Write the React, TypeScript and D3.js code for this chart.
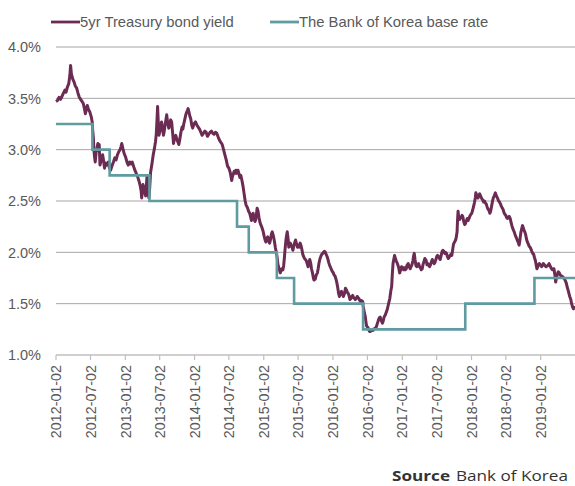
import React, { useEffect } from "react";
import * as d3 from "d3";

type Pt = [string, number];

const yield2012: Pt[] = [
  ["2012-01-02", 3.47], ["2012-01-10", 3.48], ["2012-01-18", 3.51], ["2012-01-26", 3.49],
  ["2012-02-03", 3.52], ["2012-02-10", 3.55], ["2012-02-18", 3.58], ["2012-02-24", 3.56],
  ["2012-03-02", 3.61], ["2012-03-09", 3.64], ["2012-03-15", 3.72], ["2012-03-19", 3.82],
  ["2012-03-23", 3.74], ["2012-03-30", 3.69], ["2012-04-06", 3.66], ["2012-04-13", 3.62],
  ["2012-04-20", 3.60], ["2012-04-27", 3.55], ["2012-05-04", 3.51], ["2012-05-11", 3.49],
  ["2012-05-18", 3.47], ["2012-05-25", 3.45], ["2012-06-01", 3.39], ["2012-06-05", 3.35],
  ["2012-06-11", 3.40], ["2012-06-15", 3.43], ["2012-06-22", 3.39], ["2012-06-28", 3.37],
  ["2012-07-06", 3.32], ["2012-07-11", 3.27], ["2012-07-13", 3.20], ["2012-07-17", 3.12],
  ["2012-07-20", 3.00], ["2012-07-24", 2.92], ["2012-07-27", 2.88], ["2012-08-01", 2.98],
  ["2012-08-06", 3.02], ["2012-08-10", 3.06], ["2012-08-14", 2.99], ["2012-08-17", 3.05],
  ["2012-08-21", 2.85], ["2012-08-28", 2.90], ["2012-09-04", 2.95], ["2012-09-10", 2.88],
  ["2012-09-14", 2.82], ["2012-09-19", 2.87], ["2012-09-25", 2.85], ["2012-10-04", 2.88],
  ["2012-10-10", 2.82], ["2012-10-16", 2.80], ["2012-10-23", 2.84], ["2012-10-31", 2.88],
  ["2012-11-07", 2.92], ["2012-11-14", 2.90], ["2012-11-21", 2.95], ["2012-11-28", 2.98],
  ["2012-12-05", 3.00], ["2012-12-10", 3.03], ["2012-12-14", 3.06], ["2012-12-20", 3.01],
  ["2012-12-27", 2.96],
];

const yield2013: Pt[] = [
  ["2013-01-03", 2.93], ["2013-01-10", 2.88], ["2013-01-17", 2.85], ["2013-01-24", 2.88],
  ["2013-01-31", 2.86], ["2013-02-07", 2.88], ["2013-02-14", 2.84], ["2013-02-21", 2.80],
  ["2013-02-28", 2.77], ["2013-03-07", 2.74], ["2013-03-14", 2.70], ["2013-03-21", 2.65],
  ["2013-03-26", 2.60], ["2013-03-29", 2.53], ["2013-04-02", 2.60], ["2013-04-05", 2.66],
  ["2013-04-10", 2.63], ["2013-04-15", 2.58], ["2013-04-19", 2.55], ["2013-04-24", 2.68],
  ["2013-04-26", 2.74], ["2013-05-02", 2.60], ["2013-05-06", 2.53], ["2013-05-10", 2.62],
  ["2013-05-15", 2.78], ["2013-05-22", 2.86], ["2013-05-29", 2.95], ["2013-06-05", 3.02],
  ["2013-06-10", 3.08], ["2013-06-14", 3.15], ["2013-06-18", 3.30], ["2013-06-21", 3.42],
  ["2013-06-25", 3.25], ["2013-06-28", 3.14], ["2013-07-03", 3.18], ["2013-07-08", 3.24],
  ["2013-07-12", 3.27], ["2013-07-17", 3.20], ["2013-07-22", 3.14], ["2013-07-26", 3.18],
  ["2013-07-31", 3.25], ["2013-08-05", 3.30], ["2013-08-08", 3.34], ["2013-08-13", 3.26],
  ["2013-08-19", 3.21], ["2013-08-23", 3.24], ["2013-08-29", 3.29], ["2013-09-03", 3.27],
  ["2013-09-09", 3.15], ["2013-09-13", 3.06], ["2013-09-17", 3.10], ["2013-09-25", 3.14],
  ["2013-10-01", 3.10], ["2013-10-07", 3.07], ["2013-10-11", 3.05], ["2013-10-16", 3.10],
  ["2013-10-22", 3.17], ["2013-10-28", 3.22], ["2013-11-01", 3.20], ["2013-11-06", 3.25],
  ["2013-11-12", 3.30], ["2013-11-18", 3.35], ["2013-11-25", 3.38], ["2013-11-29", 3.40],
  ["2013-12-04", 3.36], ["2013-12-09", 3.32], ["2013-12-13", 3.30], ["2013-12-18", 3.24],
  ["2013-12-23", 3.21], ["2013-12-30", 3.25],
];

const yield2014: Pt[] = [
  ["2014-01-07", 3.27], ["2014-01-14", 3.24], ["2014-01-21", 3.22], ["2014-01-28", 3.20],
  ["2014-02-04", 3.17], ["2014-02-11", 3.14], ["2014-02-18", 3.16], ["2014-02-25", 3.18],
  ["2014-03-04", 3.17], ["2014-03-11", 3.13], ["2014-03-18", 3.15], ["2014-03-25", 3.17],
  ["2014-04-01", 3.18], ["2014-04-08", 3.16], ["2014-04-15", 3.15], ["2014-04-22", 3.17],
  ["2014-04-29", 3.16], ["2014-05-07", 3.12], ["2014-05-14", 3.09], ["2014-05-21", 3.07],
  ["2014-05-28", 3.05], ["2014-06-04", 3.00], ["2014-06-11", 2.95], ["2014-06-18", 2.90],
  ["2014-06-25", 2.84], ["2014-07-02", 2.82], ["2014-07-09", 2.78], ["2014-07-14", 2.73],
  ["2014-07-17", 2.70], ["2014-07-21", 2.74], ["2014-07-25", 2.76], ["2014-07-30", 2.79],
  ["2014-08-05", 2.77], ["2014-08-08", 2.80], ["2014-08-13", 2.77], ["2014-08-19", 2.80],
  ["2014-08-25", 2.76], ["2014-08-29", 2.73], ["2014-09-03", 2.75], ["2014-09-09", 2.70],
  ["2014-09-15", 2.64], ["2014-09-22", 2.55], ["2014-09-26", 2.50], ["2014-10-01", 2.46],
  ["2014-10-07", 2.44], ["2014-10-14", 2.40], ["2014-10-20", 2.38], ["2014-10-24", 2.35],
  ["2014-10-29", 2.31], ["2014-11-03", 2.37], ["2014-11-07", 2.38], ["2014-11-11", 2.33],
  ["2014-11-17", 2.30], ["2014-11-21", 2.32], ["2014-11-25", 2.38], ["2014-11-28", 2.43],
  ["2014-12-03", 2.40], ["2014-12-08", 2.34], ["2014-12-12", 2.30], ["2014-12-17", 2.27],
  ["2014-12-22", 2.25], ["2014-12-29", 2.21],
];

const yield2015: Pt[] = [
  ["2015-01-05", 2.15], ["2015-01-09", 2.12], ["2015-01-13", 2.10], ["2015-01-19", 2.14],
  ["2015-01-23", 2.15], ["2015-01-28", 2.11], ["2015-02-02", 2.09], ["2015-02-06", 2.12],
  ["2015-02-12", 2.18], ["2015-02-16", 2.20], ["2015-02-23", 2.15], ["2015-02-27", 2.11],
  ["2015-03-04", 2.05], ["2015-03-09", 2.00], ["2015-03-13", 1.96], ["2015-03-18", 1.88],
  ["2015-03-24", 1.84], ["2015-03-30", 1.80], ["2015-04-03", 1.82], ["2015-04-08", 1.84],
  ["2015-04-13", 1.83], ["2015-04-17", 1.87], ["2015-04-21", 1.95], ["2015-04-24", 2.02],
  ["2015-04-28", 2.10], ["2015-05-01", 2.15], ["2015-05-06", 2.20], ["2015-05-11", 2.12],
  ["2015-05-14", 2.05], ["2015-05-19", 2.07], ["2015-05-22", 2.09], ["2015-05-28", 2.06],
  ["2015-06-02", 2.04], ["2015-06-05", 2.02], ["2015-06-10", 2.07], ["2015-06-15", 2.10],
  ["2015-06-19", 2.12], ["2015-06-24", 2.08], ["2015-06-29", 2.05], ["2015-07-03", 2.07],
  ["2015-07-08", 2.05], ["2015-07-13", 2.09], ["2015-07-17", 2.07], ["2015-07-22", 2.03],
  ["2015-07-27", 1.98], ["2015-07-31", 1.96], ["2015-08-05", 1.94], ["2015-08-10", 1.93],
  ["2015-08-14", 1.92], ["2015-08-19", 1.89], ["2015-08-24", 1.86], ["2015-08-28", 1.90],
  ["2015-09-02", 1.93], ["2015-09-07", 1.89], ["2015-09-11", 1.84], ["2015-09-16", 1.80],
  ["2015-09-21", 1.75], ["2015-09-24", 1.73], ["2015-10-01", 1.74], ["2015-10-06", 1.78],
  ["2015-10-12", 1.80], ["2015-10-16", 1.84], ["2015-10-21", 1.90], ["2015-10-26", 1.94],
  ["2015-10-30", 1.96], ["2015-11-04", 1.98], ["2015-11-09", 1.99], ["2015-11-13", 2.00],
  ["2015-11-18", 2.01], ["2015-11-23", 2.00], ["2015-11-27", 1.98], ["2015-12-02", 1.96],
  ["2015-12-07", 1.93], ["2015-12-11", 1.90], ["2015-12-16", 1.87], ["2015-12-21", 1.85],
  ["2015-12-28", 1.82],
];

const yield2016: Pt[] = [
  ["2016-01-04", 1.80], ["2016-01-08", 1.78], ["2016-01-13", 1.77], ["2016-01-18", 1.74],
  ["2016-01-22", 1.71], ["2016-01-27", 1.66], ["2016-02-01", 1.60], ["2016-02-05", 1.57],
  ["2016-02-11", 1.60], ["2016-02-16", 1.62], ["2016-02-22", 1.59], ["2016-02-26", 1.57],
  ["2016-03-03", 1.60], ["2016-03-08", 1.65], ["2016-03-14", 1.63], ["2016-03-18", 1.61],
  ["2016-03-23", 1.60], ["2016-03-28", 1.57], ["2016-04-01", 1.54], ["2016-04-06", 1.55],
  ["2016-04-11", 1.57], ["2016-04-15", 1.58], ["2016-04-20", 1.56], ["2016-04-25", 1.55],
  ["2016-04-29", 1.54], ["2016-05-04", 1.55], ["2016-05-09", 1.57], ["2016-05-13", 1.56],
  ["2016-05-18", 1.55], ["2016-05-23", 1.53], ["2016-05-27", 1.52], ["2016-06-01", 1.53],
  ["2016-06-07", 1.52], ["2016-06-09", 1.48], ["2016-06-13", 1.44], ["2016-06-16", 1.41],
  ["2016-06-21", 1.37], ["2016-06-24", 1.32], ["2016-06-28", 1.28], ["2016-07-04", 1.27],
  ["2016-07-08", 1.25], ["2016-07-13", 1.23], ["2016-07-18", 1.23], ["2016-07-22", 1.24],
  ["2016-07-27", 1.25], ["2016-08-01", 1.24], ["2016-08-05", 1.25], ["2016-08-10", 1.26],
  ["2016-08-16", 1.27], ["2016-08-19", 1.28], ["2016-08-24", 1.31], ["2016-08-29", 1.34],
  ["2016-09-02", 1.36], ["2016-09-07", 1.37], ["2016-09-12", 1.34], ["2016-09-19", 1.31],
  ["2016-09-23", 1.33], ["2016-09-28", 1.37], ["2016-10-04", 1.39], ["2016-10-10", 1.42],
  ["2016-10-14", 1.44], ["2016-10-19", 1.48], ["2016-10-24", 1.52], ["2016-10-28", 1.55],
  ["2016-11-02", 1.62], ["2016-11-07", 1.67], ["2016-11-10", 1.78], ["2016-11-14", 1.89],
  ["2016-11-18", 1.93], ["2016-11-22", 1.97], ["2016-11-25", 1.95], ["2016-11-30", 1.92],
  ["2016-12-05", 1.90], ["2016-12-09", 1.88], ["2016-12-14", 1.85], ["2016-12-19", 1.80],
  ["2016-12-23", 1.82], ["2016-12-29", 1.86],
];

const yield2017: Pt[] = [
  ["2017-01-04", 1.85], ["2017-01-09", 1.83], ["2017-01-13", 1.85], ["2017-01-18", 1.83],
  ["2017-01-23", 1.84], ["2017-01-26", 1.87], ["2017-02-02", 1.89], ["2017-02-07", 1.86],
  ["2017-02-13", 1.84], ["2017-02-17", 1.86], ["2017-02-22", 1.88], ["2017-02-27", 1.92],
  ["2017-03-03", 1.97], ["2017-03-06", 1.99], ["2017-03-10", 1.93], ["2017-03-15", 1.87],
  ["2017-03-20", 1.86], ["2017-03-24", 1.88], ["2017-03-29", 1.89], ["2017-04-03", 1.86],
  ["2017-04-07", 1.85], ["2017-04-12", 1.83], ["2017-04-17", 1.84], ["2017-04-21", 1.88],
  ["2017-04-26", 1.91], ["2017-05-01", 1.94], ["2017-05-08", 1.92], ["2017-05-12", 1.88],
  ["2017-05-17", 1.89], ["2017-05-22", 1.87], ["2017-05-26", 1.86], ["2017-05-31", 1.88],
  ["2017-06-05", 1.91], ["2017-06-09", 1.93], ["2017-06-14", 1.91], ["2017-06-19", 1.89],
  ["2017-06-23", 1.90], ["2017-06-28", 1.93], ["2017-07-03", 1.96], ["2017-07-07", 1.97],
  ["2017-07-12", 1.96], ["2017-07-17", 1.94], ["2017-07-21", 1.93], ["2017-07-26", 1.97],
  ["2017-07-31", 2.01], ["2017-08-04", 2.02], ["2017-08-09", 2.01], ["2017-08-14", 1.99],
  ["2017-08-18", 2.00], ["2017-08-23", 1.99], ["2017-08-28", 1.96], ["2017-09-01", 1.94],
  ["2017-09-06", 1.95], ["2017-09-11", 1.97], ["2017-09-15", 1.98], ["2017-09-20", 1.97],
  ["2017-09-25", 2.03], ["2017-09-29", 2.08], ["2017-10-10", 2.12], ["2017-10-13", 2.14],
  ["2017-10-18", 2.20], ["2017-10-20", 2.30], ["2017-10-23", 2.40], ["2017-10-26", 2.35],
  ["2017-10-31", 2.32], ["2017-11-03", 2.33], ["2017-11-08", 2.34], ["2017-11-13", 2.36],
  ["2017-11-17", 2.35], ["2017-11-22", 2.30], ["2017-11-27", 2.27], ["2017-12-01", 2.28],
  ["2017-12-06", 2.31], ["2017-12-11", 2.33], ["2017-12-15", 2.31], ["2017-12-20", 2.33],
  ["2017-12-26", 2.36],
];

const yield2018: Pt[] = [
  ["2018-01-03", 2.38], ["2018-01-08", 2.41], ["2018-01-12", 2.44], ["2018-01-17", 2.48],
  ["2018-01-22", 2.53], ["2018-01-25", 2.58], ["2018-01-30", 2.55], ["2018-02-05", 2.53],
  ["2018-02-09", 2.55], ["2018-02-14", 2.57], ["2018-02-21", 2.54], ["2018-02-26", 2.52],
  ["2018-03-02", 2.51], ["2018-03-07", 2.49], ["2018-03-12", 2.50], ["2018-03-16", 2.48],
  ["2018-03-21", 2.47], ["2018-03-26", 2.44], ["2018-03-30", 2.42], ["2018-04-04", 2.41],
  ["2018-04-09", 2.38], ["2018-04-13", 2.40], ["2018-04-18", 2.45], ["2018-04-23", 2.50],
  ["2018-04-27", 2.53], ["2018-05-02", 2.55], ["2018-05-08", 2.58], ["2018-05-11", 2.56],
  ["2018-05-16", 2.54], ["2018-05-21", 2.52], ["2018-05-25", 2.50], ["2018-05-30", 2.49],
  ["2018-06-04", 2.47], ["2018-06-08", 2.45], ["2018-06-14", 2.43], ["2018-06-19", 2.41],
  ["2018-06-22", 2.39], ["2018-06-27", 2.37], ["2018-07-02", 2.36], ["2018-07-06", 2.34],
  ["2018-07-11", 2.33], ["2018-07-16", 2.34], ["2018-07-20", 2.35], ["2018-07-25", 2.33],
  ["2018-07-30", 2.29], ["2018-08-03", 2.26], ["2018-08-08", 2.23], ["2018-08-13", 2.21],
  ["2018-08-17", 2.19], ["2018-08-22", 2.16], ["2018-08-27", 2.14], ["2018-08-31", 2.12],
  ["2018-09-05", 2.10], ["2018-09-10", 2.07], ["2018-09-13", 2.10], ["2018-09-17", 2.16],
  ["2018-09-20", 2.20], ["2018-09-28", 2.26], ["2018-10-02", 2.24], ["2018-10-05", 2.22],
  ["2018-10-10", 2.20], ["2018-10-15", 2.17], ["2018-10-19", 2.13], ["2018-10-24", 2.10],
  ["2018-10-29", 2.08], ["2018-11-02", 2.06], ["2018-11-07", 2.05], ["2018-11-12", 2.03],
  ["2018-11-16", 2.01], ["2018-11-21", 1.99], ["2018-11-26", 1.98], ["2018-11-30", 1.95],
  ["2018-12-05", 1.92], ["2018-12-10", 1.87], ["2018-12-13", 1.84], ["2018-12-18", 1.86],
  ["2018-12-21", 1.88], ["2018-12-26", 1.89], ["2018-12-31", 1.88],
];

const yield2019: Pt[] = [
  ["2019-01-07", 1.86], ["2019-01-11", 1.87], ["2019-01-16", 1.89], ["2019-01-21", 1.88],
  ["2019-01-25", 1.87], ["2019-01-30", 1.86], ["2019-02-07", 1.87], ["2019-02-12", 1.88],
  ["2019-02-15", 1.89], ["2019-02-20", 1.87], ["2019-02-25", 1.85], ["2019-03-04", 1.83],
  ["2019-03-08", 1.84], ["2019-03-13", 1.84], ["2019-03-18", 1.78], ["2019-03-22", 1.71],
  ["2019-03-27", 1.76], ["2019-04-01", 1.79], ["2019-04-05", 1.81], ["2019-04-10", 1.80],
  ["2019-04-15", 1.78], ["2019-04-19", 1.77], ["2019-04-24", 1.77], ["2019-04-29", 1.76],
  ["2019-05-03", 1.75], ["2019-05-08", 1.74], ["2019-05-13", 1.72], ["2019-05-17", 1.70],
  ["2019-05-22", 1.66], ["2019-05-27", 1.63], ["2019-05-31", 1.60], ["2019-06-04", 1.57],
  ["2019-06-10", 1.54], ["2019-06-14", 1.50], ["2019-06-19", 1.47], ["2019-06-24", 1.45],
  ["2019-06-28", 1.48],
];

const baseRate: Pt[] = [
  ["2012-01-02", 3.25], ["2012-07-12", 3.0], ["2012-10-11", 2.75], ["2013-05-09", 2.5],
  ["2014-08-14", 2.25], ["2014-10-15", 2.0], ["2015-03-12", 1.75], ["2015-06-11", 1.5],
  ["2016-06-09", 1.25], ["2017-11-30", 1.5], ["2018-11-30", 1.75], ["2019-07-02", 1.75],
];

const xTickLabels = [
  "2012-01-02", "2012-07-02", "2013-01-02", "2013-07-02", "2014-01-02",
  "2014-07-02", "2015-01-02", "2015-07-02", "2016-01-02", "2016-07-02",
  "2017-01-02", "2017-07-02", "2018-01-02", "2018-07-02", "2019-01-02",
];
const yTicks = [1.0, 1.5, 2.0, 2.5, 3.0, 3.5, 4.0];
const xDomain = ["2012-01-02", "2019-07-02"];
const seriesNames = ["5yr Treasury bond yield", "The Bank of Korea base rate"];

const W = 575;
const H = 486;
const M = { left: 56, right: 575, top: 47, bottom: 355 };
const YIELD_COLOR = "#6b2b52";
const BASE_COLOR = "#5f9ba1";
const TEXT_COLOR = "#595959";
const FONT = "'Liberation Sans', Arial, sans-serif";

export default function App() {
  useEffect(() => {
    document.body.style.margin = "0";
  }, []);
  const parse = d3.timeParse("%Y-%m-%d");
  const x = d3
    .scaleTime()
    .domain(xDomain.map((d) => parse(d) as Date))
    .range([M.left, M.right]);
  const y = d3.scaleLinear().domain([1, 4]).range([M.bottom, M.top]);

  const yieldData = [
    ...yield2012, ...yield2013, ...yield2014, ...yield2015,
    ...yield2016, ...yield2017, ...yield2018, ...yield2019,
  ];
  const line = d3
    .line<Pt>()
    .x((d) => x(parse(d[0]) as Date))
    .y((d) => y(d[1]));
  const stepLine = d3
    .line<Pt>()
    .x((d) => x(parse(d[0]) as Date))
    .y((d) => y(d[1]))
    .curve(d3.curveStepAfter);

  return (
    <svg
      width={W}
      height={H}
      style={{ position: "absolute", left: 0, top: 0, background: "#fff" }}
      fontFamily={FONT}
    >
      {yTicks.map((t) => (
        <line
          key={"g" + t}
          x1={M.left}
          x2={M.right}
          y1={y(t)}
          y2={y(t)}
          stroke={t === 1 ? "#bfbfbf" : "#a6a6a6"}
          strokeWidth={t === 1 ? 1.5 : 1}
        />
      ))}
      {yTicks.map((t) => (
        <text
          key={"yl" + t}
          x={41}
          y={y(t)}
          dy="0.36em"
          textAnchor="end"
          fontSize={14.5}
          fill={TEXT_COLOR}
        >
          {d3.format(".1f")(t) + "%"}
        </text>
      ))}
      {xTickLabels.map((s) => {
        const px = x(parse(s) as Date);
        return (
          <g key={"xt" + s}>
            <line x1={px} x2={px} y1={M.bottom} y2={M.bottom + 5} stroke="#bfbfbf" strokeWidth={1.2} />
            <text
              transform={`translate(${px},${M.bottom + 10}) rotate(-90)`}
              textAnchor="end"
              dy="0.36em"
              fontSize={14.3}
              fill={TEXT_COLOR}
            >
              {s}
            </text>
          </g>
        );
      })}
      <path d={line(yieldData) || ""} fill="none" stroke={YIELD_COLOR} strokeWidth={3} strokeLinejoin="round" />
      <path d={stepLine(baseRate) || ""} fill="none" stroke={BASE_COLOR} strokeWidth={2.6} />
      <line x1={51} x2={80} y1={22} y2={22} stroke={YIELD_COLOR} strokeWidth={2.8} />
      <text x={80} y={22} dy="0.36em" fontSize={14.8} fill={TEXT_COLOR}>
        {seriesNames[0]}
      </text>
      <line x1={270} x2={299} y1={22} y2={22} stroke={BASE_COLOR} strokeWidth={2.8} />
      <text x={299} y={22} dy="0.36em" fontSize={14.8} fill={TEXT_COLOR}>
        {seriesNames[1]}
      </text>
      <text x={392} y={481} fontSize={15} fontWeight="bold" fill="#333" fontFamily="'Open Sans', sans-serif" textLength={58} lengthAdjust="spacingAndGlyphs">
        Source
      </text>
      <text x={456} y={481} fontSize={15} fill="#333" fontFamily="'Open Sans', sans-serif" textLength={112} lengthAdjust="spacingAndGlyphs">
        Bank of Korea
      </text>
    </svg>
  );
}
